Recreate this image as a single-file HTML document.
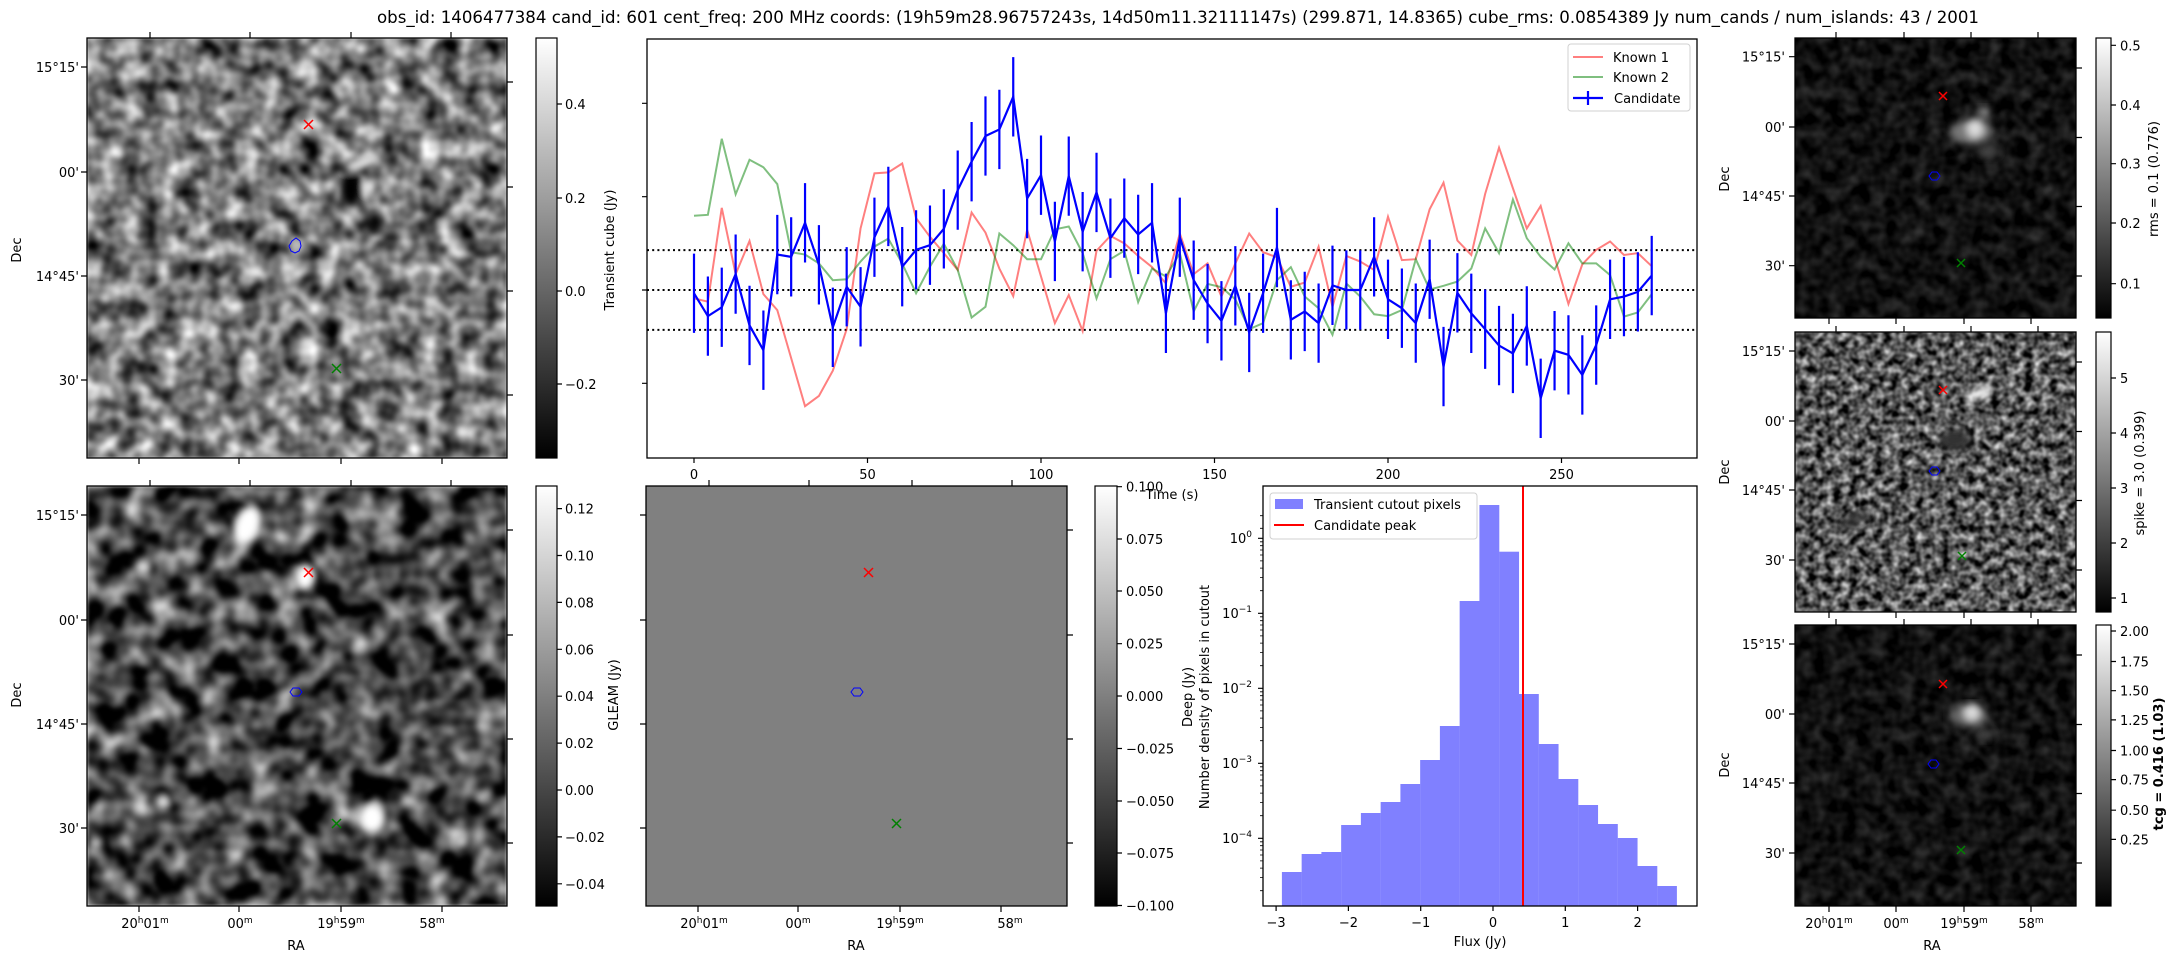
<!DOCTYPE html>
<html><head><meta charset="utf-8"><style>
html,body{margin:0;padding:0;background:#fff;}
svg{display:block;font-family:"DejaVu Sans","Liberation Sans",sans-serif;}
text{fill:#000;}
</style></head><body>
<svg width="2179" height="960" viewBox="0 0 2179 960" xmlns="http://www.w3.org/2000/svg">
<defs>
<filter id="n1" x="0" y="0" width="1" height="1" color-interpolation-filters="sRGB">
<feTurbulence type="fractalNoise" baseFrequency="0.05" numOctaves="2" seed="3"/>
<feColorMatrix type="matrix" values="1.4 0 0 0 -0.22  1.4 0 0 0 -0.22  1.4 0 0 0 -0.22  0 0 0 0 1"/>
<feGaussianBlur stdDeviation="1.2"/>
</filter>
<filter id="n2" x="0" y="0" width="1" height="1" color-interpolation-filters="sRGB">
<feTurbulence type="fractalNoise" baseFrequency="0.04" numOctaves="2" seed="7"/>
<feColorMatrix type="matrix" values="1.6 0 0 0 -0.52  1.6 0 0 0 -0.52  1.6 0 0 0 -0.52  0 0 0 0 1"/>
<feGaussianBlur stdDeviation="1.5"/>
</filter>
<filter id="n3" x="0" y="0" width="1" height="1" color-interpolation-filters="sRGB">
<feTurbulence type="fractalNoise" baseFrequency="0.12" numOctaves="2" seed="11"/>
<feColorMatrix type="matrix" values="1.4 0 0 0 -0.36  1.4 0 0 0 -0.36  1.4 0 0 0 -0.36  0 0 0 0 1"/>
<feGaussianBlur stdDeviation="0.6"/>
</filter>
<filter id="n4" x="0" y="0" width="1" height="1" color-interpolation-filters="sRGB">
<feTurbulence type="fractalNoise" baseFrequency="0.07" numOctaves="2" seed="5"/>
<feColorMatrix type="matrix" values="0.35 0 0 0 -0.11  0.35 0 0 0 -0.11  0.35 0 0 0 -0.11  0 0 0 0 1"/>
</filter>
<filter id="bl"><feGaussianBlur stdDeviation="4"/></filter>
<linearGradient id="cb" x1="0" y1="1" x2="0" y2="0"><stop offset="0" stop-color="#000"/><stop offset="1" stop-color="#fff"/></linearGradient>
<clipPath id="c1"><rect x="87" y="38" width="420" height="420"/></clipPath>
<clipPath id="c2"><rect x="87" y="486" width="420" height="420"/></clipPath>
<clipPath id="c3"><rect x="1795" y="38" width="281" height="280"/></clipPath>
<clipPath id="c4"><rect x="1795" y="332" width="281" height="280"/></clipPath>
<clipPath id="c5"><rect x="1795" y="625" width="281" height="281"/></clipPath>
</defs>

<text x="1178" y="23" font-size="16.5" text-anchor="middle" textLength="1602" lengthAdjust="spacingAndGlyphs">obs_id: 1406477384 cand_id: 601 cent_freq: 200 MHz coords: (19h59m28.96757243s, 14d50m11.32111147s) (299.871, 14.8365) cube_rms: 0.0854389 Jy num_cands / num_islands: 43 / 2001</text>

<!-- Top-left image -->
<g clip-path="url(#c1)">
<rect x="87" y="38" width="420" height="420" filter="url(#n1)"/>
<g filter="url(#bl)">
<ellipse cx="351" cy="190" rx="11" ry="17" fill="#000"/>
<ellipse cx="375" cy="222" rx="7" ry="10" fill="#000"/>
<ellipse cx="362" cy="163" rx="18" ry="5" fill="#eee" transform="rotate(-20 362 163)"/>
<ellipse cx="370" cy="187" rx="5" ry="6" fill="#fff"/>
<ellipse cx="298" cy="246" rx="6" ry="6" fill="#ccc"/>
</g>
</g>
<rect x="87" y="38" width="420" height="420" fill="none" stroke="#000" stroke-width="1.3"/>
<g stroke="#000" stroke-width="1.2">
<path d="M150 38v-6M250 38v-6M351 38v-6M451 38v-6M139 458v6M239 458v6M341 458v6M442 458v6M87 67h-6M87 172h-6M87 276h-6M87 380h-6M507 82h6M507 187h6M507 291h6M507 395h6"/>
</g>
<g font-size="13" text-anchor="end"><text x="79" y="72">15°15'</text><text x="79" y="177">00'</text><text x="79" y="281">14°45'</text><text x="79" y="385">30'</text></g>
<text transform="translate(21 250) rotate(-90)" font-size="13" text-anchor="middle">Dec</text>
<path d="M304 120l9 9M313 120l-9 9" stroke="red" stroke-width="1.5"/>
<path d="M332 364l9 9M341 364l-9 9" stroke="green" stroke-width="1.5"/>
<path d="M292 241l4-3 4 3 1 5-2 5-4 2-4-2-2-5z" fill="none" stroke="blue" stroke-width="1"/>
<rect x="536" y="38" width="21" height="420" fill="url(#cb)" stroke="#000" stroke-width="1.2"/>
<path d="M557 104h5M557 198h5M557 291h5M557 384h5" stroke="#000" stroke-width="1.2"/>
<g font-size="13"><text x="565" y="109">0.4</text><text x="565" y="203">0.2</text><text x="565" y="296">0.0</text><text x="565" y="389">−0.2</text></g>
<text transform="translate(614 250) rotate(-90)" font-size="13" text-anchor="middle">Transient cube (Jy)</text>

<!-- Light curve -->
<rect x="647" y="39" width="1050" height="419" fill="none" stroke="#000" stroke-width="1.3"/>
<path d="M647 103.3h-5M647 196.7h-5M647 290h-5M647 383.3h-5M694 458v5M867.5 458v5M1041 458v5M1214.5 458v5M1388 458v5M1561.5 458v5" stroke="#000" stroke-width="1.2"/>
<g font-size="13" text-anchor="middle"><text x="694" y="479">0</text><text x="867.5" y="479">50</text><text x="1041" y="479">100</text><text x="1214.5" y="479">150</text><text x="1388" y="479">200</text><text x="1561.5" y="479">250</text></g>
<text x="1172" y="499" font-size="13" text-anchor="middle">Time (s)</text>
<g stroke="#000" stroke-width="2" stroke-dasharray="2 3.2">
<path d="M647 250.1H1697M647 290H1697M647 329.9H1697"/>
</g>
<g transform="translate(694 290) scale(3.47 -466.7)" fill="none">
<polyline vector-effect="non-scaling-stroke" stroke="red" stroke-opacity="0.5" stroke-width="2" points="0,-0.018 4,-0.025 8,0.176 12,0.034 16,0.105 20,-0.009 24,-0.043 28,-0.146 32,-0.249 36,-0.227 40,-0.173 44,-0.084 48,0.132 52,0.25 56,0.252 60,0.271 64,0.154 68,0.114 72,0.079 76,0.043 80,0.166 84,0.123 88,0.046 92,-0.013 96,0.129 100,0.029 104,-0.071 108,-0.011 112,-0.088 116,0.084 120,0.116 124,0.1 128,0.073 132,0.049 136,0.014 140,0.121 144,0.034 148,0.057 152,-0.014 156,0.057 160,0.121 164,0.081 168,0.07 172,0.007 176,0.016 180,0.093 184,-0.036 188,0.073 192,0.061 196,0.043 200,0.157 204,0.064 208,0.066 212,0.173 216,0.23 220,0.106 224,0.075 228,0.206 232,0.305 236,0.218 240,0.132 244,0.18 248,0.071 252,-0.03 256,0.055 260,0.086 264,0.104 268,0.075 272,0.079 276,0.051"/>
<polyline vector-effect="non-scaling-stroke" stroke="green" stroke-opacity="0.5" stroke-width="2" points="0,0.159 4,0.161 8,0.324 12,0.205 16,0.279 20,0.263 24,0.227 28,0.081 32,0.076 36,0.057 40,0.021 44,0.023 48,0.061 52,0.093 56,0.11 60,0.057 64,-0.007 68,0.05 72,0.099 76,0.043 80,-0.059 84,-0.036 88,0.121 92,0.096 96,0.066 100,0.066 104,0.13 108,0.136 112,0.079 116,-0.018 120,0.066 124,0.084 128,-0.026 132,0.046 136,0.029 140,0.079 144,-0.046 148,0.013 152,0.006 156,-0.02 160,-0.084 164,-0.071 168,0.021 172,0.049 176,-0.014 180,-0.039 184,-0.096 188,0.014 192,-0.014 196,-0.052 200,-0.056 204,-0.043 208,0.066 212,0.001 216,0.009 220,0.018 224,0.046 228,0.132 232,0.079 236,0.194 240,0.111 244,0.071 248,0.044 252,0.1 256,0.057 260,0.057 264,0.032 268,-0.057 272,-0.048 276,-0.009"/>
<polyline vector-effect="non-scaling-stroke" stroke="blue" stroke-width="2.2" points="0,-0.007 4,-0.056 8,-0.037 12,0.034 16,-0.076 20,-0.129 24,0.076 28,0.071 32,0.144 36,0.054 40,-0.08 44,0.007 48,-0.036 52,0.113 56,0.179 60,0.05 64,0.086 68,0.096 72,0.131 76,0.214 80,0.275 84,0.33 88,0.344 92,0.414 96,0.196 100,0.246 104,0.104 108,0.244 112,0.125 116,0.209 120,0.111 124,0.154 128,0.119 132,0.144 136,-0.05 140,0.113 144,0.021 148,-0.029 152,-0.066 156,0.009 160,-0.091 164,-0.007 168,0.091 172,-0.064 176,-0.046 180,-0.071 184,0.01 188,0 192,0 196,0.071 200,-0.02 204,-0.039 208,-0.071 212,0.023 216,-0.164 220,-0.006 224,-0.05 228,-0.084 232,-0.119 236,-0.136 240,-0.077 244,-0.232 248,-0.13 252,-0.139 256,-0.182 260,-0.118 264,-0.02 268,-0.014 272,-0.004 276,0.031"/>
<path vector-effect="non-scaling-stroke" stroke="blue" stroke-width="2.2" d="M0 -0.092V0.078M4 -0.141V0.029M8 -0.122V0.048M12 -0.051V0.119M16 -0.161V0.009M20 -0.214V-0.044M24 -0.009V0.161M28 -0.014V0.156M32 0.059V0.229M36 -0.031V0.139M40 -0.165V0.005M44 -0.078V0.092M48 -0.121V0.049M52 0.028V0.198M56 0.094V0.264M60 -0.035V0.135M64 0.001V0.171M68 0.011V0.181M72 0.046V0.216M76 0.129V0.299M80 0.19V0.36M84 0.245V0.415M88 0.259V0.429M92 0.329V0.499M96 0.111V0.281M100 0.161V0.331M104 0.019V0.189M108 0.159V0.329M112 0.04V0.21M116 0.124V0.294M120 0.026V0.196M124 0.069V0.239M128 0.034V0.204M132 0.059V0.229M136 -0.135V0.035M140 0.028V0.198M144 -0.064V0.106M148 -0.114V0.056M152 -0.151V0.019M156 -0.076V0.094M160 -0.176V-0.006M164 -0.092V0.078M168 0.006V0.176M172 -0.149V0.021M176 -0.131V0.039M180 -0.156V0.014M184 -0.075V0.095M188 -0.085V0.085M192 -0.085V0.085M196 -0.014V0.156M200 -0.105V0.065M204 -0.124V0.046M208 -0.156V0.014M212 -0.062V0.108M216 -0.249V-0.079M220 -0.091V0.079M224 -0.135V0.035M228 -0.169V0.001M232 -0.204V-0.034M236 -0.221V-0.051M240 -0.162V0.008M244 -0.317V-0.147M248 -0.215V-0.045M252 -0.224V-0.054M256 -0.267V-0.097M260 -0.203V-0.033M264 -0.105V0.065M268 -0.099V0.071M272 -0.089V0.081M276 -0.054V0.116"/>
</g>
<rect x="1568" y="44" width="122" height="67" rx="3" fill="#fff" fill-opacity="0.8" stroke="#d0d0d0" stroke-width="1"/>
<path d="M1573 57h30" stroke="red" stroke-opacity="0.5" stroke-width="2"/>
<path d="M1573 77h30" stroke="green" stroke-opacity="0.5" stroke-width="2"/>
<path d="M1573 98h30M1588 91v14" stroke="blue" stroke-width="2.2"/>
<g font-size="13"><text x="1613" y="62">Known 1</text><text x="1613" y="82">Known 2</text><text x="1614" y="103">Candidate</text></g>

<!-- Right column -->
<g clip-path="url(#c3)">
<rect x="1795" y="38" width="281" height="280" filter="url(#n4)"/>
<g filter="url(#bl)">
<ellipse cx="1971" cy="132" rx="22" ry="12" fill="#777"/>
<ellipse cx="1975" cy="128" rx="8" ry="10" fill="#ddd"/>
<ellipse cx="1984" cy="112" rx="6" ry="4" fill="#bbb"/>
<ellipse cx="1988" cy="152" rx="12" ry="6" fill="#444"/>
</g>
</g>
<rect x="1795" y="38" width="281" height="280" fill="none" stroke="#000" stroke-width="1.3"/>
<g clip-path="url(#c4)">
<rect x="1795" y="332" width="281" height="280" filter="url(#n3)"/>
<g filter="url(#bl)">
<ellipse cx="1980" cy="393" rx="14" ry="5" fill="#fff" transform="rotate(-25 1980 393)"/>
<ellipse cx="1955" cy="440" rx="16" ry="10" fill="#333"/>
<ellipse cx="1855" cy="520" rx="20" ry="5" fill="#333" transform="rotate(-25 1855 520)"/>
</g>
</g>
<rect x="1795" y="332" width="281" height="280" fill="none" stroke="#000" stroke-width="1.3"/>
<g clip-path="url(#c5)">
<rect x="1795" y="625" width="281" height="281" filter="url(#n4)"/>
<g filter="url(#bl)">
<ellipse cx="1968" cy="716" rx="20" ry="11" fill="#666"/>
<ellipse cx="1972" cy="712" rx="8" ry="9" fill="#ddd"/>
<ellipse cx="1985" cy="735" rx="10" ry="6" fill="#444"/>
</g>
</g>
<rect x="1795" y="625" width="281" height="281" fill="none" stroke="#000" stroke-width="1.3"/>
<g stroke="#000" stroke-width="1.2">
<path d="M1836 38v-6M1904 38v-6M1971 38v-6M2038 38v-6M1829 318v6M1896 318v6M1964 318v6M2031 318v6M1795 56.7h-6M1795 127h-6M1795 196h-6M1795 265.7h-6M2076 68h6M2076 137.5h6M2076 206.5h6M2076 276h6"/>
<path d="M1836 332v-6M1904 332v-6M1971 332v-6M2038 332v-6M1829 612v6M1896 612v6M1964 612v6M2031 612v6M1795 351h-6M1795 421h-6M1795 490h-6M1795 560h-6M2076 362h6M2076 431.5h6M2076 500.5h6M2076 570h6"/>
<path d="M1836 625v-6M1904 625v-6M1971 625v-6M2038 625v-6M1829 906v6M1896 906v6M1964 906v6M2031 906v6M1795 644h-6M1795 714h-6M1795 783h-6M1795 853h-6M2076 655h6M2076 724.5h6M2076 793.5h6M2076 863h6"/>
</g>
<g font-size="13" text-anchor="end">
<text x="1785" y="61.7">15°15'</text><text x="1785" y="132">00'</text><text x="1785" y="201">14°45'</text><text x="1785" y="270.7">30'</text>
<text x="1785" y="356">15°15'</text><text x="1785" y="426">00'</text><text x="1785" y="495">14°45'</text><text x="1785" y="565">30'</text>
<text x="1785" y="649">15°15'</text><text x="1785" y="719">00'</text><text x="1785" y="788">14°45'</text><text x="1785" y="858">30'</text>
</g>
<g font-size="13" text-anchor="middle">
<text transform="translate(1729 179) rotate(-90)">Dec</text>
<text transform="translate(1729 472) rotate(-90)">Dec</text>
<text transform="translate(1729 765) rotate(-90)">Dec</text>
</g>
<g stroke-width="1.5" fill="none">
<path d="M1939 92l8 8M1947 92l-8 8M1939 386l8 8M1947 386l-8 8M1939 680l8 8M1947 680l-8 8" stroke="red"/>
<path d="M1957 259l8 8M1965 259l-8 8M1958 552l8 8M1966 552l-8 8M1957 846l8 8M1965 846l-8 8" stroke="green"/>
<path d="M1929 176l3-4h5l3 4-3 4h-5z M1929 471l3-4h5l3 4-3 4h-5z M1928 764l3-4h5l3 4-3 4h-5z" stroke="blue" stroke-width="1"/>
</g>
<rect x="2096" y="38" width="15" height="280" fill="url(#cb)" stroke="#000" stroke-width="1.2"/>
<rect x="2096" y="332" width="15" height="280" fill="url(#cb)" stroke="#000" stroke-width="1.2"/>
<rect x="2096" y="625" width="15" height="281" fill="url(#cb)" stroke="#000" stroke-width="1.2"/>
<path d="M2111 45.3h5M2111 105h5M2111 163.7h5M2111 223h5M2111 283.7h5M2111 378h5M2111 433h5M2111 488h5M2111 543h5M2111 598h5M2111 631h5M2111 661.5h5M2111 690.7h5M2111 719.9h5M2111 750.5h5M2111 779.6h5M2111 810.2h5M2111 839.4h5" stroke="#000" stroke-width="1.2"/>
<g font-size="13">
<text x="2120" y="50.3">0.5</text><text x="2120" y="110">0.4</text><text x="2120" y="168.7">0.3</text><text x="2120" y="228">0.2</text><text x="2120" y="288.7">0.1</text>
<text x="2120" y="383">5</text><text x="2120" y="438">4</text><text x="2120" y="493">3</text><text x="2120" y="548">2</text><text x="2120" y="603">1</text>
<text x="2120" y="636">2.00</text><text x="2120" y="666.5">1.75</text><text x="2120" y="695.7">1.50</text><text x="2120" y="724.9">1.25</text><text x="2120" y="755.5">1.00</text><text x="2120" y="784.6">0.75</text><text x="2120" y="815.2">0.50</text><text x="2120" y="844.4">0.25</text>
</g>
<g font-size="13" text-anchor="middle">
<text transform="translate(2158 179) rotate(-90)">rms = 0.1 (0.776)</text>
<text transform="translate(2144 473) rotate(-90)">spike = 3.0 (0.399)</text>
<text transform="translate(2163 764) rotate(-90)" font-weight="bold">tcg = 0.416 (1.03)</text>
</g>
<g font-size="13" text-anchor="middle">
<text x="1829" y="928">20<tspan font-size="9" dy="-5">h</tspan><tspan dy="5">01</tspan><tspan font-size="9" dy="-5">m</tspan></text>
<text x="1896" y="928">00<tspan font-size="9" dy="-5">m</tspan></text>
<text x="1964" y="928">19<tspan font-size="9" dy="-5">h</tspan><tspan dy="5">59</tspan><tspan font-size="9" dy="-5">m</tspan></text>
<text x="2031" y="928">58<tspan font-size="9" dy="-5">m</tspan></text>
<text x="1932" y="950">RA</text>
</g>

<!-- Bottom-left image -->
<g clip-path="url(#c2)">
<rect x="87" y="486" width="420" height="420" filter="url(#n2)"/>
<g filter="url(#bl)">
<ellipse cx="247" cy="525" rx="13" ry="20" fill="#fff" transform="rotate(20 247 525)"/>
<ellipse cx="305" cy="577" rx="10" ry="13" fill="#fff"/>
<ellipse cx="143" cy="567" rx="8" ry="8" fill="#ddd"/>
<ellipse cx="163" cy="802" rx="8" ry="8" fill="#ddd"/>
<ellipse cx="372" cy="818" rx="13" ry="15" fill="#fff"/>
<ellipse cx="461" cy="841" rx="7" ry="7" fill="#ccc"/>
<ellipse cx="96" cy="843" rx="6" ry="7" fill="#ccc"/>
</g>
</g>
<rect x="87" y="486" width="420" height="420" fill="none" stroke="#000" stroke-width="1.3"/>
<g stroke="#000" stroke-width="1.2">
<path d="M150 486v-6M250 486v-6M351 486v-6M451 486v-6M139 906v6M239 906v6M341 906v6M442 906v6M87 515h-6M87 620h-6M87 724h-6M87 828h-6M507 530h6M507 635h6M507 739h6M507 843h6"/>
</g>
<g font-size="13" text-anchor="end"><text x="79" y="520">15°15'</text><text x="79" y="625">00'</text><text x="79" y="729">14°45'</text><text x="79" y="833">30'</text></g>
<text transform="translate(21 695) rotate(-90)" font-size="13" text-anchor="middle">Dec</text>
<path d="M304 568l9 9M313 568l-9 9" stroke="red" stroke-width="1.5"/>
<path d="M332 819l9 9M341 819l-9 9" stroke="green" stroke-width="1.5"/>
<path d="M290 692l3-4h6l3 4-3 4h-6z" fill="none" stroke="blue" stroke-width="1"/>
<g font-size="13" text-anchor="middle">
<text x="145" y="928">20<tspan font-size="9" dy="-5">h</tspan><tspan dy="5">01</tspan><tspan font-size="9" dy="-5">m</tspan></text>
<text x="240" y="928">00<tspan font-size="9" dy="-5">m</tspan></text>
<text x="341" y="928">19<tspan font-size="9" dy="-5">h</tspan><tspan dy="5">59</tspan><tspan font-size="9" dy="-5">m</tspan></text>
<text x="432" y="928">58<tspan font-size="9" dy="-5">m</tspan></text>
<text x="296" y="950">RA</text>
</g>
<rect x="536" y="486" width="21" height="420" fill="url(#cb)" stroke="#000" stroke-width="1.2"/>
<path d="M557 508.6h5M557 555.5h5M557 602.4h5M557 649.3h5M557 696.2h5M557 743.1h5M557 790h5M557 836.9h5M557 883.8h5" stroke="#000" stroke-width="1.2"/>
<g font-size="13"><text x="565" y="513.6">0.12</text><text x="565" y="560.5">0.10</text><text x="565" y="607.4">0.08</text><text x="565" y="654.3">0.06</text><text x="565" y="701.2">0.04</text><text x="565" y="748.1">0.02</text><text x="565" y="795">0.00</text><text x="565" y="841.9">−0.02</text><text x="565" y="888.8">−0.04</text></g>
<text transform="translate(618 695) rotate(-90)" font-size="13" text-anchor="middle">GLEAM (Jy)</text>

<!-- GLEAM -->
<rect x="646" y="486" width="421" height="420" fill="#808080" stroke="#000" stroke-width="1.3"/>
<g stroke="#000" stroke-width="1.2">
<path d="M709 486v-6M809 486v-6M912 486v-6M1012 486v-6M698 906v6M798 906v6M900 906v6M1001 906v6M646 515h-6M646 620h-6M646 724h-6M646 828h-6M1067 530h6M1067 635h6M1067 739h6M1067 843h6"/>
</g>
<path d="M864 568l9 9M873 568l-9 9" stroke="red" stroke-width="1.5"/>
<path d="M892 819l9 9M901 819l-9 9" stroke="green" stroke-width="1.5"/>
<path d="M851 692l3-4h6l3 4-3 4h-6z" fill="none" stroke="blue" stroke-width="1"/>
<g font-size="13" text-anchor="middle">
<text x="704" y="928">20<tspan font-size="9" dy="-5">h</tspan><tspan dy="5">01</tspan><tspan font-size="9" dy="-5">m</tspan></text>
<text x="798" y="928">00<tspan font-size="9" dy="-5">m</tspan></text>
<text x="900" y="928">19<tspan font-size="9" dy="-5">h</tspan><tspan dy="5">59</tspan><tspan font-size="9" dy="-5">m</tspan></text>
<text x="1010" y="928">58<tspan font-size="9" dy="-5">m</tspan></text>
<text x="856" y="950">RA</text>
</g>
<rect x="1095" y="486" width="22" height="420" fill="url(#cb)" stroke="#000" stroke-width="1.2"/>
<path d="M1117 486.7h5M1117 539h5M1117 591h5M1117 643.7h5M1117 696h5M1117 748.5h5M1117 801h5M1117 853h5M1117 905.5h5" stroke="#000" stroke-width="1.2"/>
<g font-size="13"><text x="1126" y="491.7">0.100</text><text x="1126" y="544">0.075</text><text x="1126" y="596">0.050</text><text x="1126" y="648.7">0.025</text><text x="1126" y="701">0.000</text><text x="1126" y="753.5">−0.025</text><text x="1126" y="806">−0.050</text><text x="1126" y="858">−0.075</text><text x="1126" y="910.5">−0.100</text></g>

<!-- Histogram -->
<g fill="#8080ff">
<rect x="1281.9" y="872" width="19.9" height="34"/>
<rect x="1301.65" y="854" width="19.9" height="52"/>
<rect x="1321.4" y="852" width="19.9" height="54"/>
<rect x="1341.15" y="825" width="19.9" height="81"/>
<rect x="1360.9" y="813" width="19.9" height="93"/>
<rect x="1380.65" y="802" width="19.9" height="104"/>
<rect x="1400.4" y="784" width="19.9" height="122"/>
<rect x="1420.15" y="760" width="19.9" height="146"/>
<rect x="1439.9" y="726" width="19.9" height="180"/>
<rect x="1459.65" y="601" width="19.9" height="305"/>
<rect x="1479.4" y="505" width="19.9" height="401"/>
<rect x="1499.15" y="551.7" width="19.9" height="354.3"/>
<rect x="1518.9" y="694" width="19.9" height="212"/>
<rect x="1538.65" y="744" width="19.9" height="162"/>
<rect x="1558.4" y="779" width="19.9" height="127"/>
<rect x="1578.15" y="805" width="19.9" height="101"/>
<rect x="1597.9" y="824" width="19.9" height="82"/>
<rect x="1617.65" y="838" width="19.9" height="68"/>
<rect x="1637.4" y="866" width="19.9" height="40"/>
<rect x="1657.15" y="886" width="19.75" height="20"/>
</g>
<path d="M1523 486V906" stroke="red" stroke-width="2"/>
<rect x="1263" y="486" width="434" height="420" fill="none" stroke="#000" stroke-width="1.3"/>
<path d="M1276.1 906v5M1348.4 906v5M1420.7 906v5M1493 906v5M1565.3 906v5M1637.6 906v5M1263 538.3h-5M1263 613.3h-5M1263 688.3h-5M1263 763.3h-5M1263 838.3h-5" stroke="#000" stroke-width="1.2"/>
<g stroke="#000" stroke-width="0.8">
<path d="M1263 515.7h-3M1263 528.3h-3M1263 590.7h-3M1263 577.5h-3M1263 568.1h-3M1263 560.9h-3M1263 555h-3M1263 550h-3M1263 545.7h-3M1263 541.8h-3M1263 665.7h-3M1263 652.5h-3M1263 643.1h-3M1263 635.9h-3M1263 630h-3M1263 625h-3M1263 620.7h-3M1263 616.8h-3M1263 740.7h-3M1263 727.5h-3M1263 718.1h-3M1263 710.9h-3M1263 705h-3M1263 700h-3M1263 695.7h-3M1263 691.8h-3M1263 815.7h-3M1263 802.5h-3M1263 793.1h-3M1263 785.9h-3M1263 780h-3M1263 775h-3M1263 770.7h-3M1263 766.8h-3M1263 890.7h-3M1263 877.5h-3M1263 868.1h-3M1263 860.9h-3M1263 855h-3M1263 850h-3M1263 845.7h-3M1263 841.8h-3"/>
</g>
<g font-size="13" text-anchor="middle"><text x="1276.1" y="927">−3</text><text x="1348.4" y="927">−2</text><text x="1420.7" y="927">−1</text><text x="1493" y="927">0</text><text x="1565.3" y="927">1</text><text x="1637.6" y="927">2</text></g>
<text x="1480" y="946" font-size="13" text-anchor="middle">Flux (Jy)</text>
<g font-size="13" text-anchor="end">
<text x="1252" y="543">10<tspan font-size="9" dy="-6">0</tspan></text>
<text x="1252" y="618">10<tspan font-size="9" dy="-6">−1</tspan></text>
<text x="1252" y="693">10<tspan font-size="9" dy="-6">−2</tspan></text>
<text x="1252" y="768">10<tspan font-size="9" dy="-6">−3</tspan></text>
<text x="1252" y="843">10<tspan font-size="9" dy="-6">−4</tspan></text>
</g>
<g font-size="13" text-anchor="middle">
<text transform="translate(1192 697) rotate(-90)">Deep (Jy)</text>
<text transform="translate(1209 697) rotate(-90)">Number density of pixels in cutout</text>
</g>
<rect x="1270" y="493" width="207" height="46" rx="3" fill="#fff" fill-opacity="0.8" stroke="#d0d0d0" stroke-width="1"/>
<rect x="1275" y="499" width="28" height="10" fill="#8080ff"/>
<path d="M1274 525h30" stroke="red" stroke-width="2"/>
<g font-size="13"><text x="1314" y="509">Transient cutout pixels</text><text x="1314" y="530">Candidate peak</text></g>
</svg>
</body></html>
